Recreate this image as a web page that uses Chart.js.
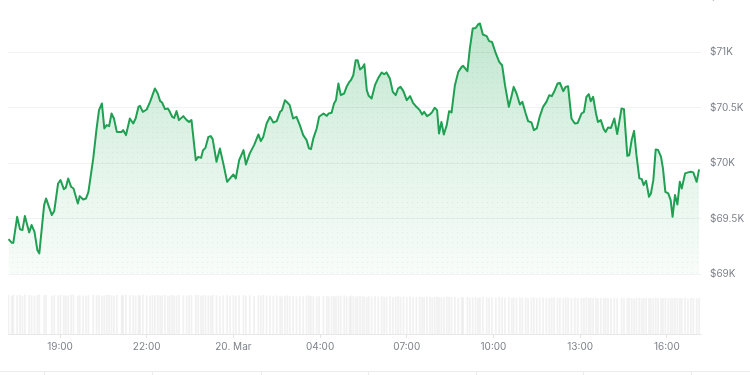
<!DOCTYPE html>
<html>
<head>
<meta charset="utf-8">
<script src="https://cdn.jsdelivr.net/npm/chart.js@4.4.1/dist/chart.umd.min.js"></script>
<style>
  html, body { margin: 0; padding: 0; background: #fff; overflow: hidden; width: 750px; height: 375px; }
  #wrap { position: absolute; left: 0; top: -20px; width: 750px; height: 395px; }
  #tbl { position: absolute; left: 0; top: 371px; width: 750px; height: 4px; border-top: 1px solid #ececec; }
  .sep { position: absolute; top: 371px; width: 1px; height: 4px; background: #ececec; }
</style>
</head>
<body>
<div id="wrap"><canvas id="c" width="750" height="395"></canvas></div>
<div id="tbl"></div>
<div class="sep" style="left:44px"></div>
<div class="sep" style="left:152px"></div>
<div class="sep" style="left:261px"></div>
<div class="sep" style="left:368px"></div>
<div class="sep" style="left:476px"></div>
<div class="sep" style="left:583px"></div>
<div class="sep" style="left:691px"></div>
<script>
// Minutes since 19 Mar 17:00
const times = [
  13,20,23,31,37,42,47,56,61,67,
  73,77,87,91,103,108,116,121,128,132,
  137,143,148,157,161,168,174,179,189,196,
  201,207,212,217,222,227,232,238,248,251,
  257,265,272,277,283,286,292,300,307,312,
  317,323,328,332,338,344,348,353,357,362,
  367,376,383,388,393,402,407,413,417,422,
  428,433,437,445,452,459,467,473,480,485,
  492,501,506,514,523,532,537,542,549,556,
  563,570,577,581,587,592,597,604,611,618,
  625,632,637,641,646,653,658,667,674,678,
  684,689,693,698,703,710,715,721,724,729,
  734,738,743,748,752,757,761,767,774,781,
  788,793,798,805,811,817,822,827,833,840,
  847,853,860,867,872,876,882,888,893,898,
  903,907,912,917,923,928,933,940,947,954,
  957,966,971,977,983,988,992,998,1006,1011,
  1017,1025,1032,1038,1044,1052,1058,1062,1068,1075,
  1080,1087,1092,1099,1104,1110,1116,1123,1130,1136,
  1141,1146,1153,1158,1165,1170,1175,1182,1189,1195,
  1203,1208,1213,1218,1222,1227,1233,1237,1243,1249,
  1253,1258,1264,1271,1277,1286,1291,1298,1302,1307,
  1312,1317,1323,1328,1332,1337,1343,1347,1352,1357,
  1362,1368,1372,1377,1383,1388,1392,1397,1402,1407,
  1411,1418,1424,1430,1435,1442,1447
];
const prices = [
  69318,69284,69284,69518,69405,69399,69525,69378,69444,69383,
  69218,69189,69624,69684,69534,69570,69819,69849,69768,69780,
  69864,69789,69774,69639,69705,69675,69684,69744,70045,70315,
  70480,70540,70315,70345,70336,70450,70405,70284,70284,70300,
  70255,70405,70360,70405,70510,70519,70465,70486,70555,70615,
  70675,70630,70561,70549,70489,70495,70465,70420,70410,70471,
  70390,70426,70390,70374,70390,70029,70059,70050,70119,70140,
  70239,70246,70219,70014,70135,70000,69834,69865,69900,69865,
  70029,70120,69991,70090,70165,70261,70201,70239,70360,70420,
  70369,70381,70465,70480,70570,70549,70525,70405,70420,70345,
  70255,70210,70135,70128,70225,70315,70420,70450,70429,70450,
  70456,70540,70570,70720,70615,70630,70690,70735,70750,70795,
  70930,70930,70847,70865,70894,70660,70609,70585,70705,70771,
  70820,70804,70820,70765,70645,70615,70675,70690,70651,70570,
  70606,70546,70510,70480,70441,70465,70426,70441,70465,70501,
  70480,70270,70374,70261,70345,70471,70459,70705,70825,70870,
  70879,70831,71036,71216,71221,71252,71261,71162,71147,71102,
  71095,70991,70915,70885,70705,70510,70615,70690,70630,70531,
  70555,70450,70381,70369,70300,70315,70420,70510,70555,70615,
  70606,70645,70720,70726,70651,70690,70696,70405,70360,70365,
  70450,70465,70600,70624,70561,70600,70450,70374,70390,70309,
  70284,70324,70320,70405,70264,70495,70489,70068,70074,70210,
  70293,70074,69865,69858,69804,69843,69699,69729,69849,70126,
  70120,70059,69955,69744,69729,69669,69518,69714,69630,69834,
  69774,69910,69919,69924,69919,69834,69946
];
const volumes = [
  100,98,101,99,100,97,101,100,99,98,
  100,101,99,100,98,100,99,101,100,98,
  99,100,101,98,100,99,97,100,101,99,
  100,98,99,100,101,99,98,100,99,100,
  101,99,100,98,99,100,101,99,98,100,
  99,100,98,99,100,97,99,100,98,99,
  100,99,98,100,99,101,100,98,99,100,
  99,98,100,99,97,99,100,98,99,98,
  99,100,98,99,97,99,98,100,99,98,
  97,99,98,96,98,99,97,98,96,98,
  97,98,99,97,98,96,97,98,97,96,
  98,97,96,98,97,99,97,96,98,97,
  96,97,98,96,97,95,97,96,98,96,
  97,95,96,97,95,96,97,95,96,95,
  96,94,95,96,95,94,96,95,94,95,
  96,94,95,94,96,95,94,95,93,95,
  94,95,93,94,95,93,94,95,94,93,
  94,93,95,94,93,94,92,94,93,94,
  93,94,92,93,94,92,93,94,93,92,
  93,94,92,93,92,94,93,92,93,92,
  93,92,94,92,93,92,93,91,93,92,
  93,92,91,93,92,93,91,92,93,92,
  91,92,93,91,92,93,92,91,92,93,
  92,91,92,93,91,92,91,93,92,91,
  92,93,91,92,92,91,92
];
const xTickMinutes = [120, 300, 480, 660, 840, 1020, 1200, 1380];
const xTickLabels = ['19:00', '22:00', '20. Mar', '04:00', '07:00', '10:00', '13:00', '16:00'];
const yTickValues = [69000, 69500, 70000, 70500, 71000, 71500];
const yTickLabels = ['$69K', '$69.5K', '$70K', '$70.5K', '$71K', '$71.5K'];

const pricePts = times.map((t, i) => ({ x: t, y: prices[i] }));
const volPts = times.map((t, i) => ({ x: t, y: volumes[i] }));

const LINE = 'rgb(31,160,82)';
const LABEL = '#7d828a';
const FONT = { family: 'Inter, "Liberation Sans", sans-serif', size: 10 };

// dot pattern
const pc = document.createElement('canvas');
pc.width = 5; pc.height = 5;
const pctx = pc.getContext('2d');
pctx.fillStyle = 'rgba(20,110,55,0.08)';
pctx.fillRect(2, 2, 1, 1);
const dotPattern = pctx.createPattern(pc, 'repeat');

function gradientFill(ctx) {
  const chart = ctx.chart;
  if (!chart.chartArea) return 'rgba(31,160,82,0.12)';
  const ys = chart.scales.y;
  const g = chart.ctx.createLinearGradient(0, ys.getPixelForValue(71300), 0, ys.getPixelForValue(69000));
  g.addColorStop(0, 'rgba(40,170,90,0.30)');
  g.addColorStop(0.5, 'rgba(40,170,90,0.14)');
  g.addColorStop(1, 'rgba(40,170,90,0.03)');
  return g;
}

new Chart(document.getElementById('c'), {
  data: {
    datasets: [
      { type: 'bar', data: volPts, yAxisID: 'yVol', backgroundColor: 'rgba(0,0,0,0.055)', barThickness: 1.2, order: 5 },
      { type: 'line', data: pricePts, yAxisID: 'y', borderWidth: 0, pointRadius: 0, fill: { value: 69000 }, backgroundColor: gradientFill, order: 4 },
      { type: 'line', data: pricePts, yAxisID: 'y', borderWidth: 0, pointRadius: 0, fill: { value: 69000 }, backgroundColor: dotPattern, order: 3 },
      { type: 'line', data: pricePts, yAxisID: 'y', borderColor: LINE, borderWidth: 2, pointRadius: 0, fill: false, tension: 0, borderJoinStyle: 'round', order: 1 }
    ]
  },
  options: {
    responsive: false,
    animation: false,
    devicePixelRatio: 1,
    layout: { padding: { left: 8, top: 17, right: 0, bottom: 0 } },
    plugins: { legend: { display: false }, tooltip: { enabled: false } },
    scales: {
      x: {
        type: 'linear', min: 12, max: 1451, position: 'bottom', offset: false,
        afterFit: s => { s.height = 41; },
        afterBuildTicks: s => { s.ticks = xTickMinutes.map(v => ({ value: v })); },
        ticks: { callback: (v, i) => xTickLabels[i], color: LABEL, font: FONT, padding: 3, maxRotation: 0, autoSkip: false },
        grid: { drawOnChartArea: false, drawTicks: true, tickLength: 4, color: '#e3e3e3', offset: false },
        border: { display: true, color: '#e8e8e8' }
      },
      y: {
        position: 'right', min: 68462, max: 71500,
        afterFit: s => { s.width = 49; },
        afterBuildTicks: s => { s.ticks = yTickValues.map(v => ({ value: v })); },
        ticks: { callback: (v, i) => yTickLabels[i], color: LABEL, font: FONT, padding: 9 },
        grid: { color: '#f2f2f2', drawTicks: false },
        border: { display: false }
      },
      yVol: { display: false, min: 0, max: 870 }
    }
  }
});
</script>
</body>
</html>
